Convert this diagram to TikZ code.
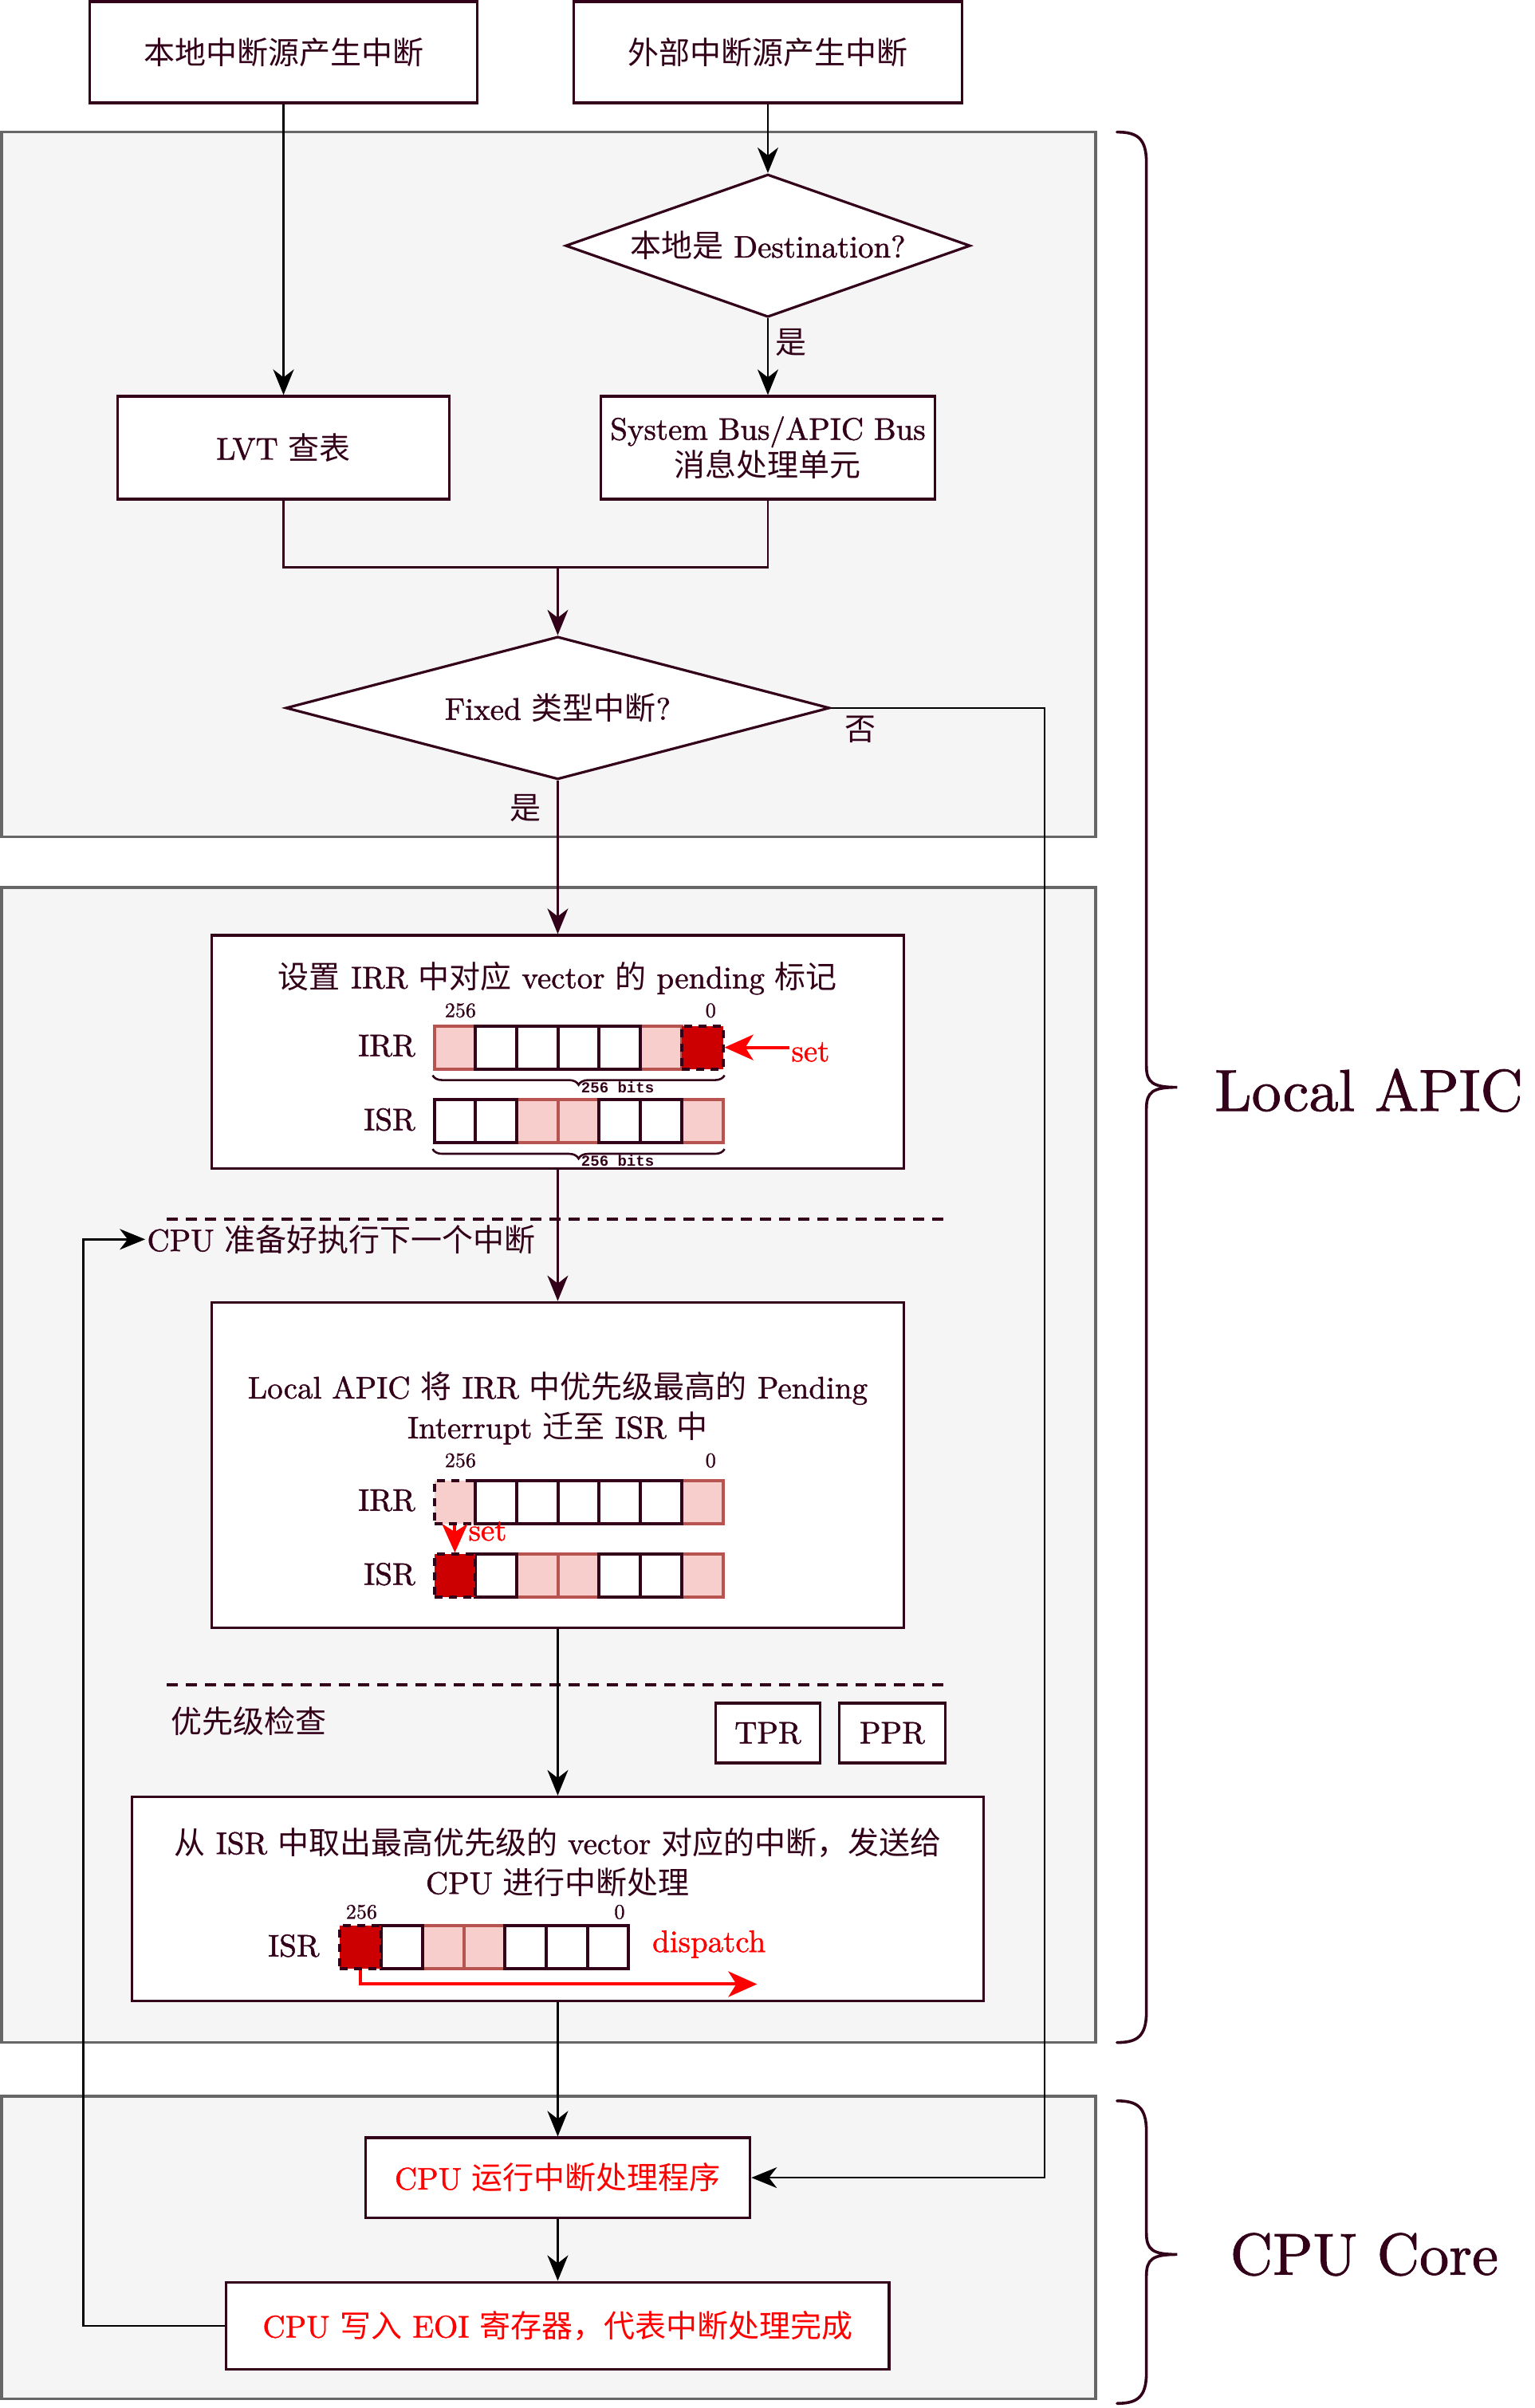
\documentclass[tikz,border=0pt]{standalone}
\usepackage{fontspec}
\setmainfont{lmroman10-regular.otf}[BoldFont=lmroman10-bold.otf, FakeBold=1.2]
\setmonofont{Liberation Mono}
\newfontfamily\cjk{Noto Sans CJK SC}
\newcommand\zh[1]{{\cjk #1}}
\usetikzlibrary{arrows.meta,shapes.geometric,decorations.pathreplacing}
\definecolor{dk}{HTML}{33001A}
\definecolor{pinkf}{HTML}{F8CECC}
\definecolor{pinkd}{HTML}{B85450}
\definecolor{redc}{HTML}{CC0000}
\definecolor{rgn}{HTML}{F5F5F5}
\definecolor{rgnd}{HTML}{666666}
\newcommand\cellrow[4]{%
  \foreach \ci/\ct in {#4} {
    \node[cell, cell\ct] (#1\ci) at ({#2+\ci*26.7},#3) {};
  }}
\newcommand\bigbrace[3]{%
  \draw[dk, line width=1.8pt, line cap=round]
    (723,#1) .. controls (736,#1) and (742,#1+4) .. (742,#1+20)
    -- (742,#3-14) .. controls (742,#3-3) and (746,#3) .. (762,#3)
    .. controls (746,#3) and (742,#3+3) .. (742,#3+14)
    -- (742,#2-20) .. controls (742,#2-4) and (736,#2) .. (723,#2);}
\begin{document}
\begin{tikzpicture}[x=0.96878pt, y=-0.96301pt,
  every node/.style={text=dk, font=\fontsize{19.5}{25}\selectfont},
  sz/.style 2 args={minimum width={#1*0.96878pt}, minimum height={#2*0.96301pt}},
  bx/.style={draw=dk, fill=white, line width=1.6pt, inner sep=0pt, align=center},
  dia/.style={shape=diamond, draw=dk, fill=white, line width=1.6pt, inner sep=0pt},
  rgnbox/.style={draw=rgnd, fill=rgn, line width=1.8pt},
  ln/.style={line width=1.2pt, draw=dk},
  blk/.style={line width=1.2pt, draw=black},
  arw/.style={-{Stealth[length=16pt,width=13pt,inset=5pt]}},
  redarr/.style={draw=red, line width=2pt, -{Stealth[length=18pt,width=16pt,inset=5pt]}},
  cell/.style={line width=2pt, inner sep=0pt, sz={26.7}{28}, anchor=north west},
  cellP/.style={fill=pinkf, draw=pinkd},
  cellW/.style={fill=white, draw=dk},
  cellR/.style={fill=redc, draw=dk, dash pattern=on 5pt off 4pt},
  cellQ/.style={fill=pinkf, draw=dk, dash pattern=on 5pt off 4pt},
  smalltxt/.style={font=\fontsize{13}{15}\selectfont},
  bits/.style={font=\ttfamily\bfseries\fontsize{9.5}{11}\selectfont},
  dashline/.style={draw=dk, line width=2pt, dash pattern=on 7pt off 5pt},
  bigtxt/.style={font=\fontsize{37}{42}\selectfont}]

\fill[white] (0,0) rectangle (993,1568);
\useasboundingbox (0,0) rectangle (993,1568);

% regions
\draw[rgnbox] (1,86) rectangle (709,545);
\draw[rgnbox] (1,578) rectangle (709,1330);
\draw[rgnbox] (1,1365) rectangle (709,1562);

% dashed separators
\draw[dashline] (108,794) -- (612,794);
\draw[dashline] (108,1097) -- (612,1097);

% top part
\node[bx, sz={251}{66}] (src1) at (183.5,34) {\zh{本地中断源产生中断}};
\node[bx, sz={251}{66}] (src2) at (497,34) {\zh{外部中断源产生中断}};
\node[dia, sz={262}{93}] (dest) at (497,160) {\makebox[0pt]{\zh{本地是} Destination?}};
\node[bx, sz={215}{67}] (lvt) at (183.5,291.5) {LVT \zh{查表}};
\node[bx, sz={216}{67}] (bus) at (497,291.5) {System Bus/APIC Bus\\[-2pt]\zh{消息处理单元}};
\coordinate (mrg) at (361,369.5);
\node[dia, sz={352}{93}] (fixed) at (361,461) {\makebox[0pt]{Fixed \zh{类型中断}?}};
\coordinate (nocorner) at (676,461);
\node (yes1) at (512,223) {\zh{是}};
\node (no) at (557,475) {\zh{否}};
\node (yes2) at (340,526) {\zh{是}};

% box A
\node[bx, sz={448}{152}] (boxa) at (361,685) {};
\node (ta) at (361,637) {\zh{设置} IRR \zh{中对应} vector \zh{的} pending \zh{标记}};
\node[smalltxt] (a256) at (298,658) {256};
\node[smalltxt] (a0) at (460,658) {0};
\node[anchor=east, inner sep=1pt] (airr) at (270,681) {IRR};
\cellrow{ai}{280}{667}{0/P,5/P,1/W,2/W,3/W,4/W,6/R}
\node[anchor=east, inner sep=1pt] (aisr) at (270,729) {ISR};
\cellrow{as}{280}{715}{2/P,3/P,6/P,0/W,1/W,4/W,5/W}
\draw[dk, line width=1.3pt, decorate, decoration={brace, mirror, amplitude=6pt}]
  ([yshift=-3pt]ai0.south west) -- ([yshift=-3pt]ai6.south east);
\node[bits, anchor=west, inner sep=1pt] (abits1) at (375,708) {256 bits};
\draw[dk, line width=1.3pt, decorate, decoration={brace, mirror, amplitude=6pt}]
  ([yshift=-3pt]as0.south west) -- ([yshift=-3pt]as6.south east);
\node[bits, anchor=west, inner sep=1pt] (abits2) at (375,756) {256 bits};
\node[text=red, anchor=west, inner sep=1pt] (aset) at (511,685) {set};
\draw[redarr] (aset.west |- ai6.east) -- (ai6.east);

% box B
\node[bx, sz={448}{212}] (boxb) at (361,954) {};
\node[align=center] (tb) at (361,917) {Local APIC \zh{将} IRR \zh{中优先级最高的} Pending\\Interrupt \zh{迁至} ISR \zh{中}};
\node[smalltxt] (b256) at (298,951) {256};
\node[smalltxt] (b0) at (460,951) {0};
\node[anchor=east, inner sep=1pt] (birr) at (270,977) {IRR};
\cellrow{bi}{280}{963}{0/Q,6/P,1/W,2/W,3/W,4/W,5/W}
\node[anchor=east, inner sep=1pt] (bisr) at (270,1025) {ISR};
\cellrow{bs}{280}{1011}{2/P,3/P,6/P,1/W,4/W,5/W,0/R}
\draw[redarr] (bi0.south) -- (bs0.north);
\node[text=red, anchor=west, inner sep=1pt] (bset) at (302,997) {set};

% dashed labels
\node[anchor=west, inner sep=1pt] (ready) at (94,807) {CPU \zh{准备好执行下一个中断}};
\node (prio) at (161,1121) {\zh{优先级检查}};
\node[bx, sz={68}{39}] (tpr) at (497,1128.5) {TPR};
\node[bx, sz={69}{39}] (ppr) at (577.5,1128.5) {PPR};

% box C
\node[bx, sz={551}{133}] (boxc) at (361,1236.5) {};
\node[align=center] (tc) at (361,1212.5) {\zh{从} ISR \zh{中取出最高优先级的} vector \zh{对应的中断，发送给}\\CPU \zh{进行中断处理}};
\node[smalltxt] (c256) at (234,1245) {256};
\node[smalltxt] (c0) at (401,1245) {0};
\node[anchor=east, inner sep=1pt] (cisr) at (208,1267) {ISR};
\cellrow{cs}{219}{1253}{2/P,3/P,1/W,4/W,5/W,6/W,0/R}
\node[text=red, anchor=west, inner sep=1pt] (disp) at (421,1266) {dispatch};
\coordinate (dispend) at (490,1292);
\draw[redarr] (cs0.south) |- (dispend);

% CPU core
\node[bx, sz={249}{52}, text=red] (run) at (361,1418) {CPU \zh{运行中断处理程序}};
\node[bx, sz={429}{57}, text=red] (eoi) at (361,1514.5) {CPU \zh{写入} EOI \zh{寄存器，代表中断处理完成}};
\coordinate (loopc) at (54,1514.5);

% connectors
\draw[blk, arw] (src1) -- (lvt);
\draw[blk, arw] (src2) -- (dest);
\draw[blk, arw] (dest) -- (bus);
\draw[ln] (lvt.south) |- (mrg) -| (bus.south);
\draw[ln, arw] (mrg) -- (fixed.north);
\draw[blk, arw] (fixed.east) -- (nocorner) |- (run.east);
\draw[ln, arw] (fixed.south) -- (boxa.north);
\draw[ln, arw] (boxa.south) -- (boxb.north);
\draw[blk, arw] (boxb.south) -- (boxc.north);
\draw[blk, arw] (boxc.south) -- (run.north);
\draw[blk, arw] (run.south) -- (eoi.north);
\draw[blk, arw] (eoi.west) -- (loopc) |- (ready.west);

% braces
\bigbrace{86}{1330}{708}
\bigbrace{1368}{1565}{1468}
\node[bigtxt] (lapic) at (886,710) {Local APIC};
\node[bigtxt] (ccore) at (883,1468) {CPU Core};
\end{tikzpicture}
\end{document}
